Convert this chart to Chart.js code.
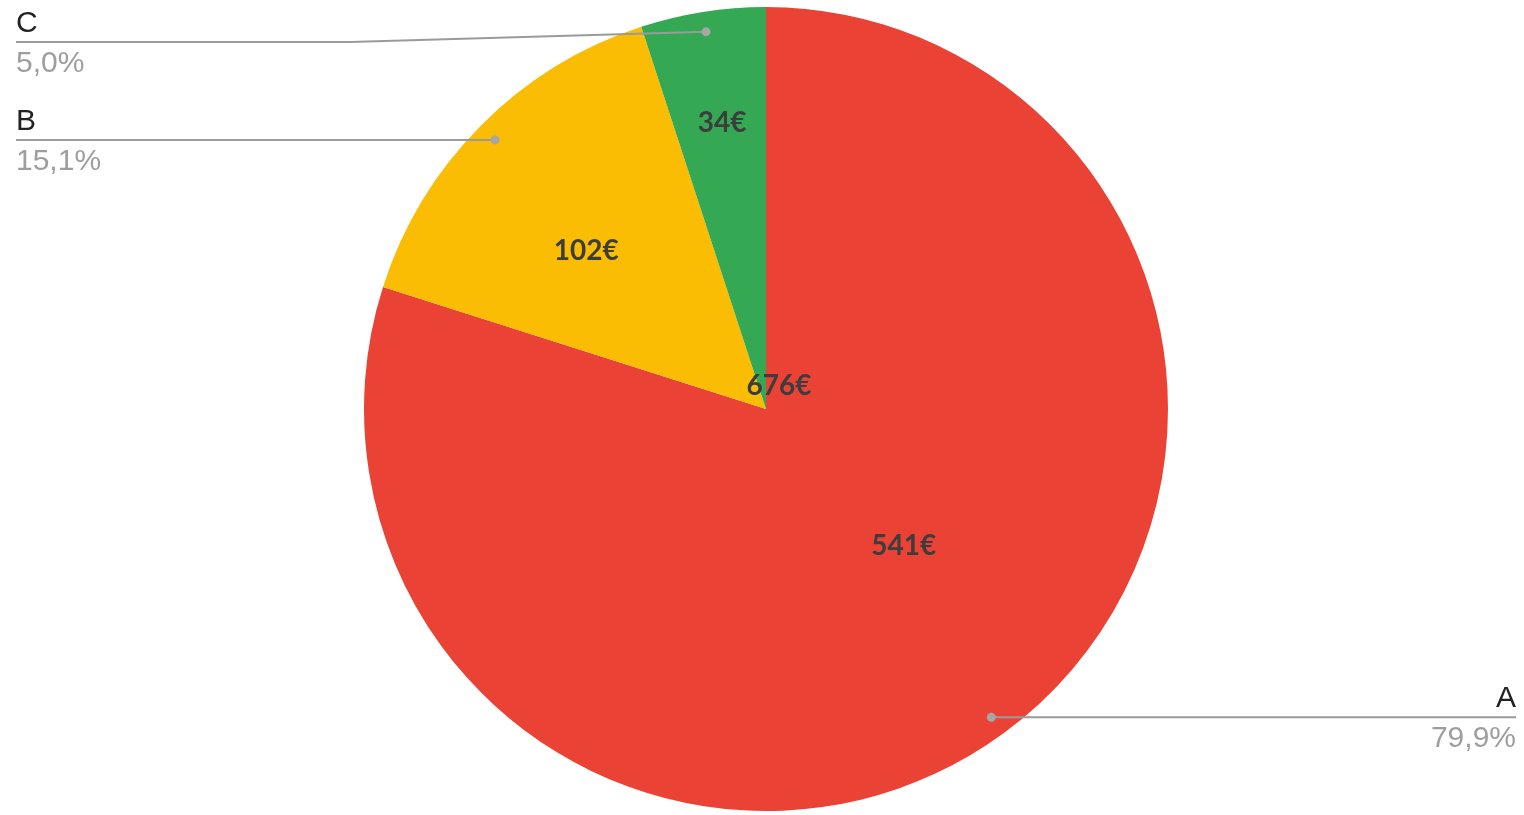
<!DOCTYPE html>
<html>
<head>
<meta charset="utf-8">
<title>Répartition</title>
<script src="https://cdn.jsdelivr.net/npm/chart.js@4.4.1/dist/chart.umd.min.js"></script>
<style>
  html, body { margin: 0; padding: 0; background: #ffffff; }
  #wrap { width: 1524px; height: 815px; }
</style>
</head>
<body>
<div id="wrap"><canvas id="pie" width="1524" height="815"></canvas></div>
<script>
// Slices, clockwise from 12 o'clock
const categories = ['A', 'B', 'C'];
const amounts = [541, 102, 34];
const sliceColors = ['#EA4335', '#FBBC04', '#34A853'];
const totalText = '676€';

// Styling for the inside value labels (radius fraction, angle nudge in degrees)
const valueLabelPlacement = [
  { r: 0.483, nudge: -9.0 },
  { r: 0.595, nudge: -3.5 },
  { r: 0.719, nudge: 0.3 }
];

const LABEL_FONT = '30px "Liberation Sans", Arial, sans-serif';
const VALUE_FONT = 'bold 28px Lato, "Open Sans", sans-serif';

function pctText(v, total) {
  return (v / total * 100).toFixed(1).replace('.', ',') + '%';
}

const calloutPlugin = {
  id: 'callouts',
  afterDatasetsDraw(chart) {
    const ctx = chart.ctx;
    const meta = chart.getDatasetMeta(0);
    const values = chart.data.datasets[0].data;
    const total = values.reduce((a, b) => a + b, 0);
    const W = chart.width;
    const leftX = 16, rightX = W - 8;
    const minRowY = 42;   // first row leaves room for its name above
    const kneeX = 350;    // where a bent leader starts to climb

    ctx.save();
    meta.data.forEach((arc, i) => {
      const mid = (arc.startAngle + arc.endAngle) / 2;
      const R = arc.outerRadius;
      const dx = arc.x + Math.cos(mid) * R * 0.95;
      const dy = arc.y + Math.sin(mid) * R * 0.95;
      const onRight = Math.cos(mid) > 0;
      const rowY = Math.max(dy, minRowY);

      // leader line
      ctx.strokeStyle = '#9a9a9a';
      ctx.lineWidth = 2;
      ctx.beginPath();
      if (onRight) {
        ctx.moveTo(dx, dy);
        ctx.lineTo(dx, rowY);
        ctx.lineTo(rightX, rowY);
      } else {
        ctx.moveTo(leftX, rowY);
        if (Math.abs(rowY - dy) > 0.5) ctx.lineTo(kneeX, rowY);
        ctx.lineTo(dx, dy);
      }
      ctx.stroke();

      // anchor dot
      ctx.fillStyle = '#a6a6a6';
      ctx.beginPath();
      ctx.arc(dx, dy, 4.5, 0, Math.PI * 2);
      ctx.fill();

      // name and share
      ctx.font = LABEL_FONT;
      ctx.textAlign = onRight ? 'right' : 'left';
      const tx = onRight ? rightX : leftX;
      ctx.textBaseline = 'alphabetic';
      ctx.fillStyle = '#222222';
      ctx.fillText(chart.data.labels[i], tx, rowY - 10);
      ctx.fillStyle = '#9e9e9e';
      ctx.fillText(pctText(values[i], total), tx, rowY + 30);

      // value inside slice
      const p = valueLabelPlacement[i];
      const a = mid + p.nudge * Math.PI / 180;
      ctx.font = VALUE_FONT;
      ctx.textAlign = 'center';
      ctx.textBaseline = 'middle';
      ctx.fillStyle = '#3d3d3d';
      ctx.fillText(values[i] + '€', arc.x + Math.cos(a) * R * p.r, arc.y + Math.sin(a) * R * p.r);
    });

    // total near the centre
    const c = meta.data[0];
    ctx.font = VALUE_FONT;
    ctx.textAlign = 'center';
    ctx.textBaseline = 'middle';
    ctx.fillStyle = '#3d3d3d';
    ctx.fillText(totalText, c.x + 13, c.y - 23);
    ctx.restore();
  }
};

new Chart(document.getElementById('pie'), {
  type: 'pie',
  data: {
    labels: categories,
    datasets: [{
      data: amounts,
      backgroundColor: sliceColors,
      borderWidth: 0
    }]
  },
  options: {
    responsive: false,
    animation: false,
    devicePixelRatio: 1,
    layout: { padding: { top: 7, bottom: 4, left: 364, right: 356 } },
    plugins: {
      legend: { display: false },
      tooltip: { enabled: false }
    }
  },
  plugins: [calloutPlugin]
});
</script>
</body>
</html>
